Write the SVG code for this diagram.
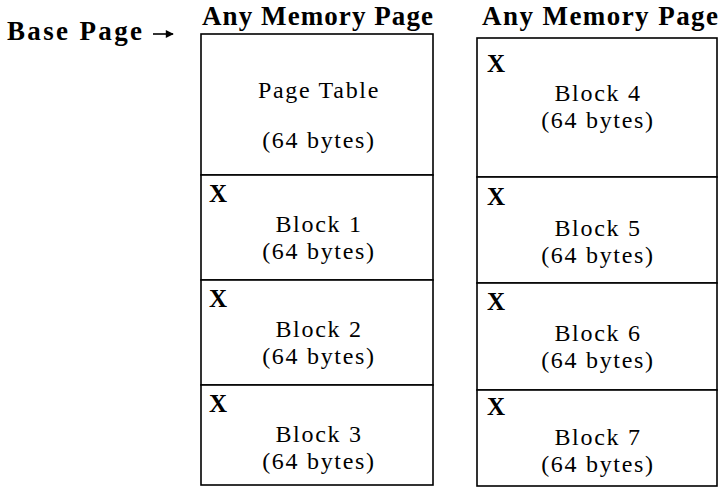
<svg xmlns="http://www.w3.org/2000/svg" width="719" height="496" viewBox="0 0 719 496">
<style>
.hd{font-family:"Liberation Serif",serif;font-weight:bold;font-size:27px;fill:#000}
.t{font-family:"Liberation Serif",serif;font-size:24px;letter-spacing:1.7px;text-anchor:middle;fill:#000}
.x{font-family:"Liberation Serif",serif;font-weight:bold;font-size:25px;fill:#000}
.box{fill:#fff;stroke:#000;stroke-width:1.6}
.ln{stroke:#000;stroke-width:1.6;fill:none}
</style>
<defs>
<marker id="ah" viewBox="0 0 10 10" refX="9" refY="5" markerWidth="9" markerHeight="8" markerUnits="userSpaceOnUse" orient="auto">
<path d="M0,0 L10,5 L0,10 z" fill="#000"/>
</marker>
</defs>
<rect width="719" height="496" fill="#fff"/>
<g id="labels">
<text class="hd" x="7" y="40" textLength="135" lengthAdjust="spacing">Base Page</text>
<text class="hd" x="202" y="25" textLength="231" lengthAdjust="spacing">Any Memory Page</text>
<text class="hd" x="482" y="25" textLength="236" lengthAdjust="spacing">Any Memory Page</text>
</g>
<g id="connectors">
<line class="ln" x1="153" y1="34" x2="173" y2="34" stroke-width="2" marker-end="url(#ah)"/>
</g>
<g id="page-table">
<rect class="box" x="201" y="34" width="232" height="141"/>
<text class="t" x="319" y="98">Page Table</text>
<text class="t" x="319" y="148">(64 bytes)</text>
</g>
<g id="block1">
<rect class="box" x="201" y="175" width="232" height="105"/>
<text class="x" x="209" y="202">X</text>
<text class="t" x="319" y="232">Block 1</text>
<text class="t" x="319" y="259">(64 bytes)</text>
</g>
<g id="block2">
<rect class="box" x="201" y="280" width="232" height="105"/>
<text class="x" x="209" y="307">X</text>
<text class="t" x="319" y="337">Block 2</text>
<text class="t" x="319" y="364">(64 bytes)</text>
</g>
<g id="block3">
<rect class="box" x="201" y="385" width="232" height="100"/>
<text class="x" x="209" y="412">X</text>
<text class="t" x="319" y="442">Block 3</text>
<text class="t" x="319" y="469">(64 bytes)</text>
</g>
<g id="block4">
<rect class="box" x="477" y="38" width="240" height="139"/>
<text class="x" x="487" y="72">X</text>
<text class="t" x="598" y="101">Block 4</text>
<text class="t" x="598" y="128">(64 bytes)</text>
</g>
<g id="block5">
<rect class="box" x="477" y="177" width="240" height="106"/>
<text class="x" x="487" y="205">X</text>
<text class="t" x="598" y="236">Block 5</text>
<text class="t" x="598" y="263">(64 bytes)</text>
</g>
<g id="block6">
<rect class="box" x="477" y="283" width="240" height="107"/>
<text class="x" x="487" y="310">X</text>
<text class="t" x="598" y="341">Block 6</text>
<text class="t" x="598" y="368">(64 bytes)</text>
</g>
<g id="block7">
<rect class="box" x="477" y="390" width="240" height="96"/>
<text class="x" x="487" y="415">X</text>
<text class="t" x="598" y="445">Block 7</text>
<text class="t" x="598" y="472">(64 bytes)</text>
</g>
</svg>
